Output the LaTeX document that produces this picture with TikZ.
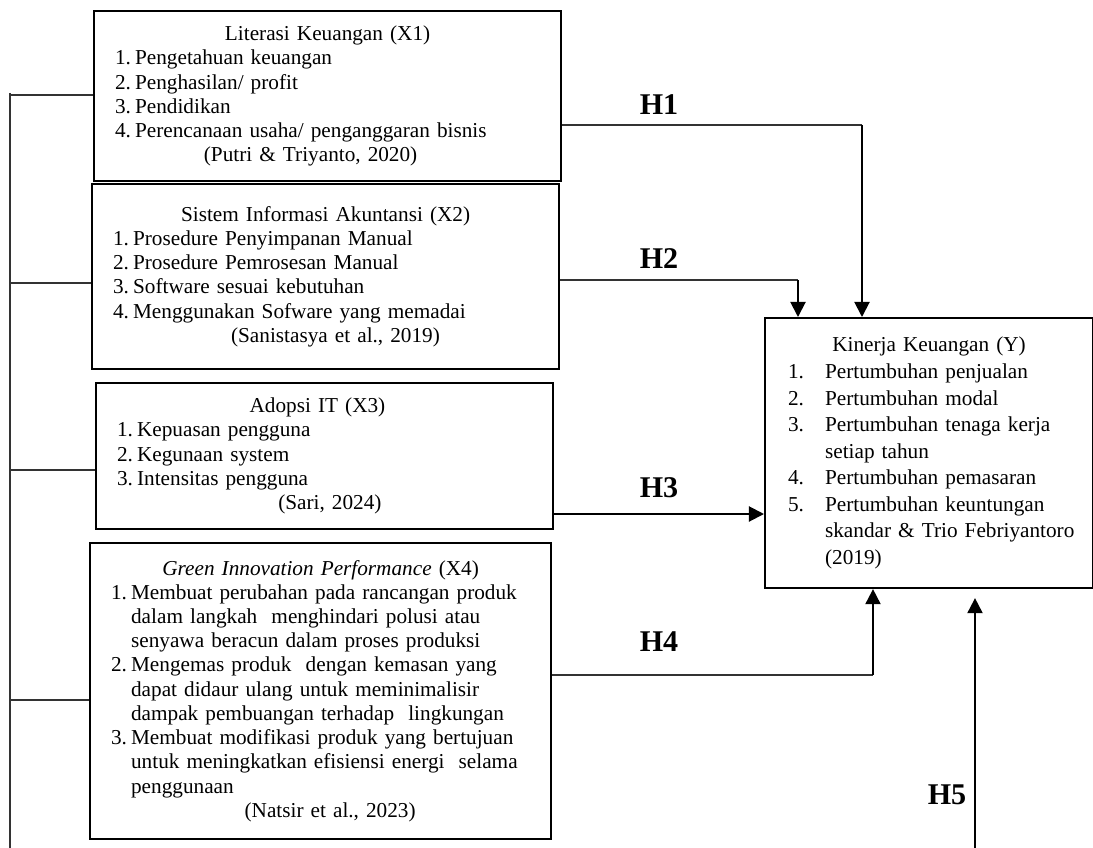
\documentclass[tikz,border=0pt]{standalone}
\usepackage{fontspec}
\setmainfont{Liberation Serif}
\usetikzlibrary{arrows.meta, positioning, calc}
\newlength{\itemmargin}
\newlength{\numwidth}
\newcommand{\boxtitle}[2][0pt]{\noindent\makebox[\linewidth]{\kern#1\relax#2\kern-#1\relax}\par}
\newcommand{\entry}[2]{\par\leftskip=\itemmargin\hangindent=\numwidth\hangafter=1\noindent\makebox[\numwidth][l]{#1}#2}
\newcommand{\source}[2][0pt]{\par\leftskip=0pt\noindent\makebox[\linewidth]{\kern#1\relax#2\kern-#1\relax}\par}

\begin{document}
\begin{tikzpicture}[
    x=0.565pt, y=-0.565pt,
    xbox/.style={draw, line width=1.2pt, anchor=north west, inner sep=0pt,
                 align=left, font=\fontsize{12}{13.7}\selectfont,
                 execute at begin node={\setlength{\itemmargin}{11.9pt}\setlength{\numwidth}{11.3pt}}},
    ybox/.style={xbox, font=\fontsize{12}{15}\selectfont,
                 execute at begin node={\setlength{\itemmargin}{13pt}\setlength{\numwidth}{20.9pt}}},
    hlab/.style={font=\fontsize{17}{17}\selectfont\bfseries},
    link/.style={line width=0.7pt, draw=black!80},
    arr/.style={line width=1.1pt, -{Triangle[length=8.5pt, width=8.5pt]}},
]
    \useasboundingbox (0,0) rectangle (1093,848);

    % Variable boxes
    \node[xbox, text width=263.9pt, minimum height=96.05pt] (lit) at (93,10) {%
        \boxtitle{Literasi Keuangan (X1)}
        \entry{1.}{Pengetahuan keuangan}
        \entry{2.}{Penghasilan/ profit}
        \entry{3.}{Pendidikan}
        \entry{4.}{Perencanaan usaha/ penganggaran bisnis}
        \source[-9.6pt]{(Putri \& Triyanto, 2020)}};

    \node[xbox, text width=263.9pt, minimum height=104.5pt] (sia) at (91,183) {%
        \boxtitle{Sistem Informasi Akuntansi (X2)}
        \entry{1.}{Prosedure Penyimpanan Manual}
        \entry{2.}{Prosedure Pemrosesan Manual}
        \entry{3.}{Software sesuai kebutuhan}
        \entry{4.}{Menggunakan Sofware yang memadai}
        \source[5.6pt]{(Sanistasya et al., 2019)}};

    \node[xbox, text width=258.2pt, minimum height=82.5pt] (adopsi) at (95,382) {%
        \boxtitle[-4pt]{Adopsi IT (X3)}
        \entry{1.}{Kepuasan pengguna}
        \entry{2.}{Kegunaan system}
        \entry{3.}{Intensitas pengguna}
        \source[3pt]{(Sari, 2024)}};

    \node[xbox, text width=260.5pt, minimum height=167.2pt] (green) at (89,542) {%
        \boxtitle{\textit{Green Innovation Performance} (X4)}
        \entry{1.}{Membuat perubahan pada rancangan produk\newline
                   dalam langkah\ \ menghindari polusi atau\newline
                   senyawa beracun dalam proses produksi}
        \entry{2.}{Mengemas produk\ \ dengan kemasan yang\newline
                   dapat didaur ulang untuk meminimalisir\newline
                   dampak pembuangan terhadap\ \ lingkungan}
        \entry{3.}{Membuat modifikasi produk yang bertujuan\newline
                   untuk meningkatkan efisiensi energi\ \ selama\newline
                   penggunaan}
        \source[5.4pt]{(Natsir et al., 2023)}};

    \node[ybox, text width=185.3pt, minimum height=152.55pt] (kinerja) at (764,317) {%
        \boxtitle{Kinerja Keuangan (Y)}
        \entry{1.}{Pertumbuhan penjualan}
        \entry{2.}{Pertumbuhan modal}
        \entry{3.}{Pertumbuhan tenaga kerja\newline setiap tahun}
        \entry{4.}{Pertumbuhan pemasaran}
        \entry{5.}{Pertumbuhan keuntungan\newline skandar \& Trio Febriyantoro\newline (2019)}\par};

    % Left bracket
    \coordinate (trunktop) at (10,93);
    \coordinate (trunkbot) at (10,848);
    \draw[link] (trunktop) -- (trunkbot);
    \foreach \v/\dy in {lit/85, sia/100, adopsi/88, green/158}
        \draw[link] ($(\v.north west)+(0,\dy)$) coordinate (t) -- (t -| trunktop);

    % Hypothesis paths
    \coordinate (out1) at ($(lit.north east)+(0,115)$);
    \coordinate (out2) at ($(sia.north east)+(0,97)$);
    \coordinate (out3) at ($(adopsi.north east)+(0,132)$);
    \coordinate (out4) at ($(green.north east)+(0,133)$);
    \coordinate (in1) at ($(kinerja.north west)+(98,0)$);
    \coordinate (in2) at ($(kinerja.north west)+(34,0)$);
    \coordinate (in4) at ($(kinerja.south west)+(109,0)$);
    \coordinate (in5) at ($(kinerja.south west)+(211,9)$);
    \coordinate (h5base) at (975,848);

    \draw[link] (out1) -- (out1 -| in1);
    \draw[arr] (out1 -| in1) -- (in1);
    \draw[link] (out2) -- (out2 -| in2);
    \draw[arr] (out2 -| in2) -- (in2);
    \draw[arr] (out3) -- (out3 -| kinerja.west);
    \draw[link] (out4) -- (out4 -| in4);
    \draw[arr] (out4 -| in4) -- (in4);
    \draw[arr] (h5base) -- (in5);

    % Labels
    \node[hlab] (lab1) at (659,105) {H1};
    \node[hlab] (lab2) at (659,259) {H2};
    \node[hlab] (lab3) at (659,488) {H3};
    \node[hlab] (lab4) at (659,642) {H4};
    \node[hlab] (lab5) at (947,795) {H5};
\end{tikzpicture}
\end{document}
